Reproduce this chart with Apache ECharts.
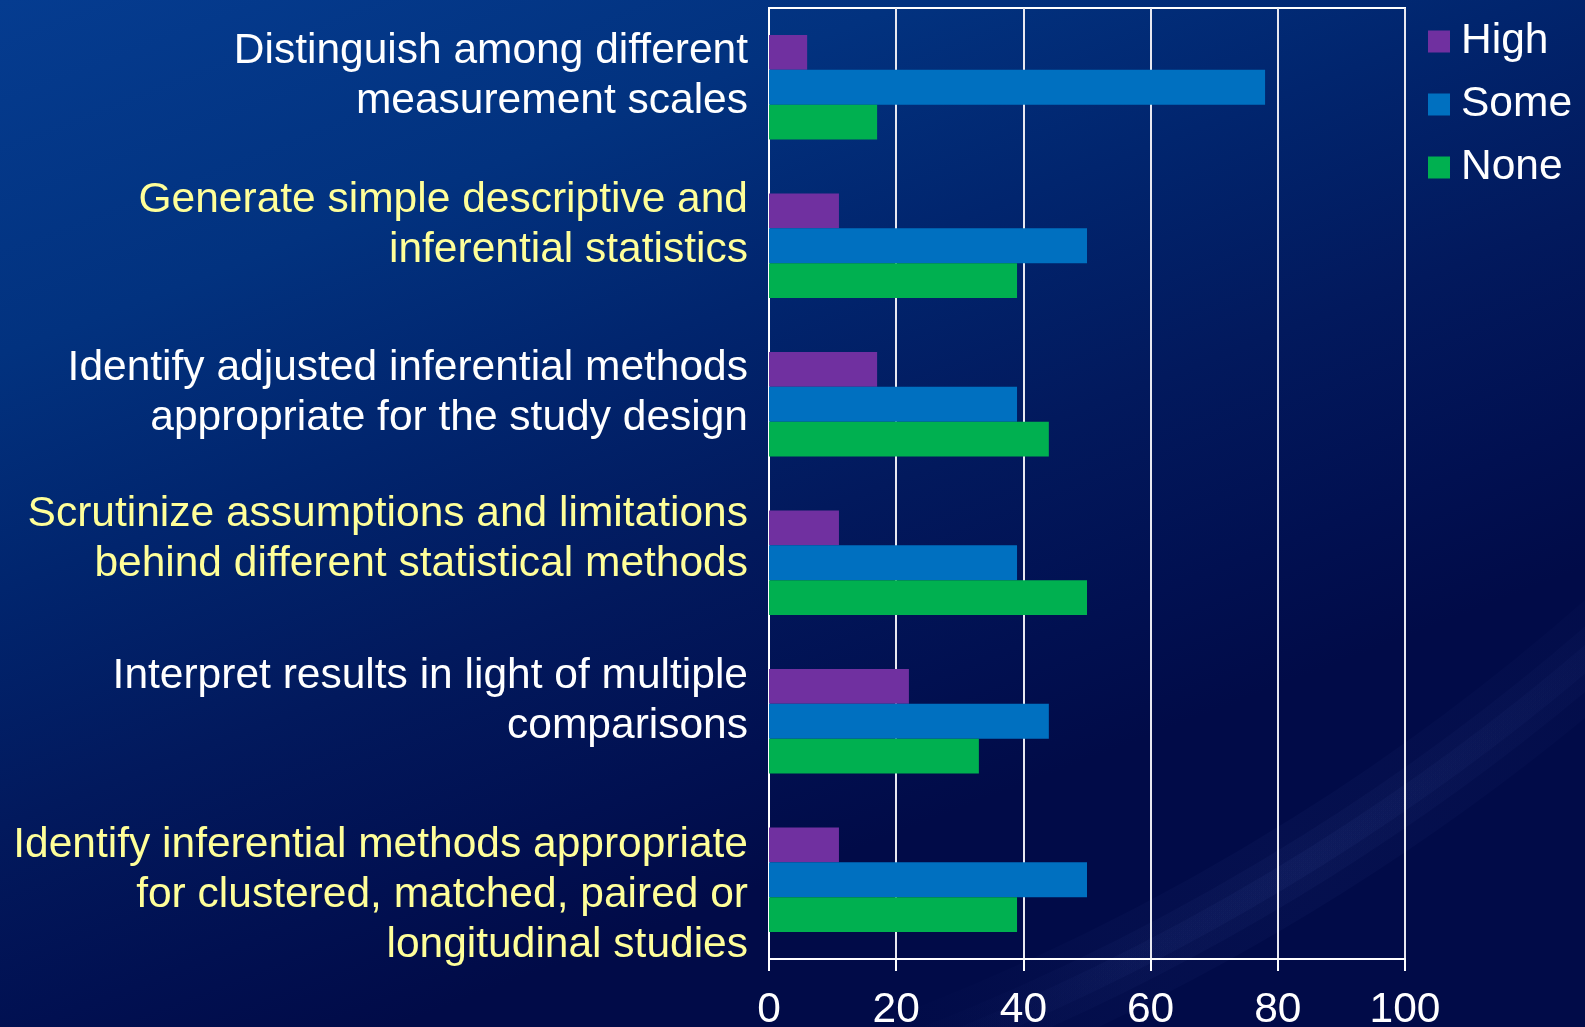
<!DOCTYPE html>
<html>
<head>
<meta charset="utf-8">
<title>Statistical skills</title>
<script src="https://cdn.jsdelivr.net/npm/echarts@6/dist/echarts.min.js"></script>
<style>
  html, body { margin: 0; padding: 0; background: #021452; }
  #chart { width: 1585px; height: 1027px; }
</style>
</head>
<body>
<div id="chart"></div>
<script>
// Skill areas (top to bottom)
const categories = [
  'Distinguish among different\nmeasurement scales',
  'Generate simple descriptive and\ninferential statistics',
  'Identify adjusted inferential methods\nappropriate for the study design',
  'Scrutinize assumptions and limitations\nbehind different statistical methods',
  'Interpret results in light of multiple\ncomparisons',
  'Identify inferential methods appropriate\nfor clustered, matched, paired or\nlongitudinal studies'
];

// Percentage of respondents per level
const highValues = [6, 11, 17, 11, 22, 11];
const someValues = [78, 50, 39, 39, 44, 50];
const noneValues = [17, 39, 44, 50, 33, 39];

const seriesNames = ['High', 'Some', 'None'];
const xTicks = [0, 20, 40, 60, 80, 100];

const FONT = '"Liberation Sans", Arial, sans-serif';
const FONT_SIZE = 42.5;
const WHITE = '#ffffff';
const YELLOW = '#ffff99';

// Vertical nudge of each category label (px, positive = upwards)
const labelNudge = [11, 20, 11, 23, 20, -16];

const chart = echarts.init(document.getElementById('chart'), null, { renderer: 'canvas' });

// Category labels alternate white / yellow; an invisible spacer line
// above or below the text block moves it off the band centre.
function categoryLabel(value, index) {
  const key = index % 2 === 0 ? 'w' : 'y';
  const body = value.split('\n').map(l => '{' + key + '|' + l + '}').join('\n');
  const nudge = labelNudge[index] || 0;
  const spacer = '{s' + Math.abs(nudge) + '| }';
  if (nudge > 0) return body + '\n' + spacer;
  if (nudge < 0) return spacer + '\n' + body;
  return body;
}

const labelRich = {
  w: { color: WHITE, fontSize: FONT_SIZE, lineHeight: 50, fontFamily: FONT },
  y: { color: YELLOW, fontSize: FONT_SIZE, lineHeight: 50, fontFamily: FONT }
};
labelNudge.forEach(n => {
  const h = Math.abs(n) * 2;
  labelRich['s' + Math.abs(n)] = { fontSize: 8, lineHeight: h, height: h };
});

// Soft light streak in the lower right corner: a few concentric arcs
// of decreasing width build up a diffuse band.
const STREAK = { cx: 87, cy: -1103, r: 2313, startAngle: 0.8, endAngle: 1.22 };
function streakArc(width, alpha, blur) {
  return {
    type: 'arc',
    z: -10,
    silent: true,
    shape: Object.assign({ clockwise: true }, STREAK),
    style: {
      fill: null,
      lineWidth: width,
      stroke: new echarts.graphic.LinearGradient(900, 1060, 1585, 620, [
        { offset: 0, color: 'rgba(80,105,190,0)' },
        { offset: 0.3, color: 'rgba(80,105,190,' + alpha * 0.8 + ')' },
        { offset: 0.55, color: 'rgba(80,105,190,' + alpha + ')' },
        { offset: 1, color: 'rgba(80,105,190,' + alpha * 0.5 + ')' }
      ], true),
      shadowBlur: blur,
      shadowColor: 'rgba(70,95,180,' + alpha + ')'
    }
  };
}

const option = {
  animation: false,
  textStyle: { fontFamily: FONT },
  graphic: [
    {
      type: 'rect',
      z: -20,
      silent: true,
      shape: { x: 0, y: 0, width: 1585, height: 1027 },
      style: {
        fill: new echarts.graphic.LinearGradient(0, 0, 0.25, 1, [
          { offset: 0, color: '#053c90' },
          { offset: 0.3, color: '#02327f' },
          { offset: 0.5, color: '#01256e' },
          { offset: 0.7, color: '#02195d' },
          { offset: 0.88, color: '#011051' },
          { offset: 1, color: '#010b48' }
        ])
      }
    },
    streakArc(90, 0.05, 30),
    streakArc(50, 0.06, 25),
    streakArc(22, 0.07, 18)
  ],
  legend: {
    data: seriesNames,
    orient: 'vertical',
    left: 1423,
    top: 15,
    icon: 'rect',
    itemWidth: 22,
    itemHeight: 22,
    itemGap: 20,
    textStyle: {
      color: WHITE,
      fontSize: FONT_SIZE,
      lineHeight: 42,
      fontFamily: FONT,
      padding: [0, 0, 0, 6]
    }
  },
  grid: {
    left: 769,
    top: 8,
    width: 636,
    height: 951,
    show: true,
    borderColor: WHITE,
    borderWidth: 2,
    backgroundColor: 'transparent',
    outerBoundsMode: 'none',
    containLabel: false
  },
  xAxis: {
    type: 'value',
    min: xTicks[0],
    max: xTicks[xTicks.length - 1],
    interval: xTicks[1] - xTicks[0],
    axisLine: { show: true, lineStyle: { color: WHITE, width: 2 } },
    axisTick: { show: true, length: 12, lineStyle: { color: WHITE, width: 2 } },
    splitLine: { show: true, lineStyle: { color: '#e8e8f0', width: 2 } },
    axisLabel: {
      color: WHITE,
      fontSize: FONT_SIZE,
      fontFamily: FONT,
      margin: 30
    }
  },
  yAxis: {
    type: 'category',
    data: categories,
    inverse: true,
    axisLine: { show: true, lineStyle: { color: WHITE, width: 2 } },
    axisTick: { show: false },
    splitLine: { show: false },
    axisLabel: {
      interval: 0,
      hideOverlap: false,
      margin: 21,
      align: 'right',
      formatter: categoryLabel,
      rich: labelRich
    }
  },
  series: [
    {
      name: seriesNames[0],
      type: 'bar',
      data: highValues,
      barGap: '0%',
      barCategoryGap: '34%',
      itemStyle: { color: '#7030a0' }
    },
    {
      name: seriesNames[1],
      type: 'bar',
      data: someValues,
      barGap: '0%',
      barCategoryGap: '34%',
      itemStyle: { color: '#0070c0' }
    },
    {
      name: seriesNames[2],
      type: 'bar',
      data: noneValues,
      barGap: '0%',
      barCategoryGap: '34%',
      itemStyle: { color: '#00b050' }
    }
  ]
};

chart.setOption(option);
</script>
</body>
</html>
